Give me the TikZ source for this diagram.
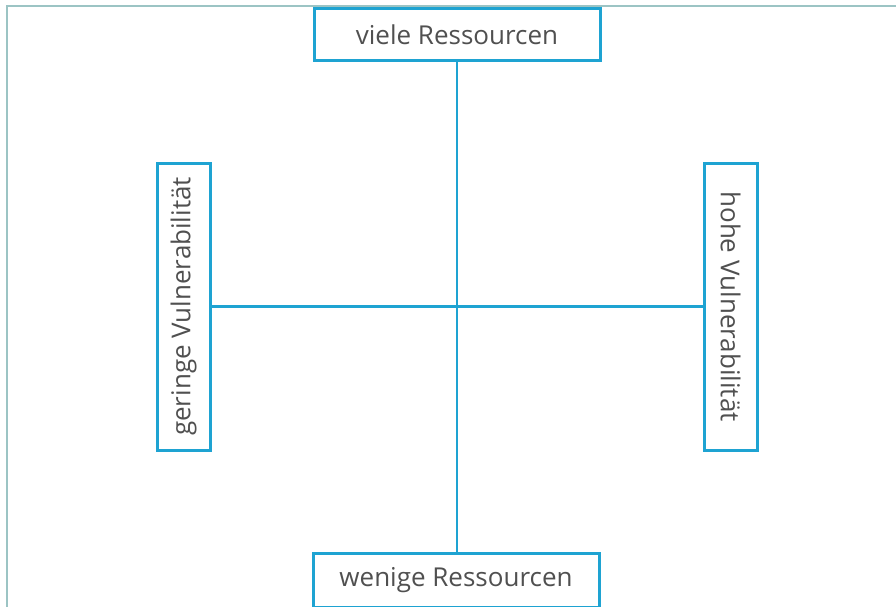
\documentclass[tikz,border=0pt]{standalone}
\usepackage{fontspec}
\setmainfont{Open Sans}
\definecolor{boxblue}{HTML}{1EA3D2}
\definecolor{framec}{HTML}{9CC4C4}
\definecolor{txt}{HTML}{505050}
\begin{document}
\begin{tikzpicture}[x=1pt,y=-1pt,
  box/.style={draw=boxblue,line width=3pt,fill=white,inner sep=0pt,text=txt,font=\fontsize{26}{30}\selectfont},
  axis/.style={draw=boxblue,line width=2.4pt}]
\useasboundingbox (0,0) rectangle (896,607);
\draw[framec,line width=1.4pt] (7,620) -- (7,6) -- (910,6);
\node[box,minimum width=286pt,minimum height=52pt] (top) at (457,35) {viele Ressourcen};
\node[box,minimum width=286pt,minimum height=54pt] (bot) at (456,580) {wenige Ressourcen};
\node[box,minimum width=287pt,minimum height=53pt,rotate=90] (left) at (183.5,306.5) {geringe Vulnerabilität};
\node[box,minimum width=287pt,minimum height=53pt,rotate=-90] (right) at (730.5,306.5) {hohe Vulnerabilität};
\draw[axis] (top.south) -- (top.south |- bot.north);
\draw[axis] (left.south) -- (right.south);
\end{tikzpicture}
\end{document}
